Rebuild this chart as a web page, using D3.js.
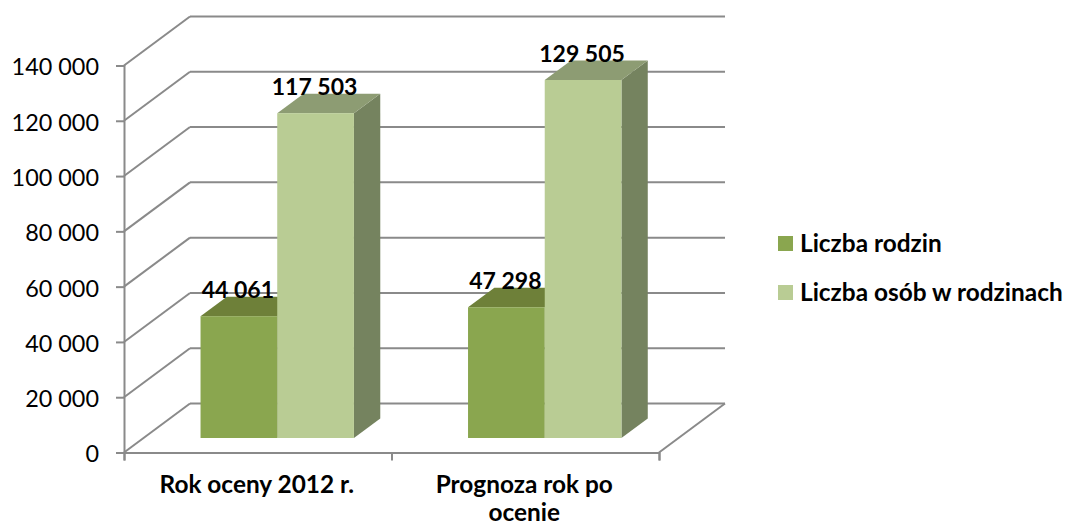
<!DOCTYPE html>
<html>
<head>
<meta charset="utf-8">
<script src="https://d3js.org/d3.v7.min.js"></script>
<style>
html, body { margin: 0; padding: 0; background: #fff; overflow: hidden; }
text { font-family: Lato, Carlito, sans-serif; fill: #000; }
</style>
</head>
<body>
<div id="chart"></div>
<script>
var categories = [["Rok oceny 2012 r."], ["Prognoza rok po", "ocenie"]];
var seriesNames = ["Liczba rodzin", "Liczba osób w rodzinach"];
var rodziny = [44061, 47298];
var osoby = [117503, 129505];
var yTicks = [0, 20000, 40000, 60000, 80000, 100000, 120000, 140000];

var width = 1067;
var height = 527;

var svg = d3.select("#chart")
	.append("svg")
	.attr("width", width)
	.attr("height", height);

var fmt = d3.formatLocale({ decimal: ",", thousands: " ", grouping: [3], currency: ["", ""] }).format(",d");

var y = d3.scaleLinear().domain([0, 140000]).range([452.5, 65.5]);
var x0 = d3.scaleBand().domain([0, 1]).range([124, 659]);
var x1 = d3.scaleBand().domain([0, 1]).range([57, 210.4]);

// how far the back wall is pushed from the front axis plane
var depthX = 66;
var depthY = -49;
// bars sit in this slice of the depth
var barNear = 0.296;
var barFar = 0.695;

function px(x, t) { return x + depthX * t; }
function py(v, t) { return y(v) + depthY * t; }

var colors = [
	{ front: "#8aa64f", top: "#6e8039", side: "#64743a" },
	{ front: "#b9cc94", top: "#8d9c73", side: "#75835f" }
];
var gridColor = "#8a8a8a";

var grid = svg.append("g").attr("fill", "none").attr("stroke", gridColor).attr("stroke-width", 2);

// back wall lines and the diagonals on the left wall
yTicks.forEach(function(t) {
	grid.append("line")
		.attr("x1", px(124, 1)).attr("x2", px(659, 1))
		.attr("y1", py(t, 1)).attr("y2", py(t, 1));
	grid.append("line")
		.attr("x1", 124).attr("x2", px(124, 1))
		.attr("y1", y(t)).attr("y2", py(t, 1));
});

// floor right edge
grid.append("line")
	.attr("x1", 659).attr("x2", px(659, 1))
	.attr("y1", y(0)).attr("y2", py(0, 1));

var yAxis = svg.append("g")
	.attr("transform", "translate(124,0)")
	.call(d3.axisLeft(y).tickValues(yTicks).tickFormat(fmt).tickSize(8).tickPadding(17));
yAxis.selectAll("line").attr("stroke", gridColor).attr("stroke-width", 2);
yAxis.select(".domain").attr("stroke", gridColor).attr("stroke-width", 2);
yAxis.selectAll("text")
	.attr("dy", "0.4em")
	.attr("fill", "#000")
	.style("font-size", "23.4px")
	.style("font-family", "Lato");

var xAxis = svg.append("g")
	.attr("transform", "translate(0,452.5)")
	.call(d3.axisBottom(d3.scaleLinear().domain([0, 2]).range([124, 659])).tickValues([0, 1, 2]).tickFormat("").tickSize(8));
xAxis.selectAll("line").attr("stroke", gridColor).attr("stroke-width", 2);
xAxis.select(".domain").attr("stroke", gridColor).attr("stroke-width", 2);

function bar(g, x, w, v, c) {
	var xa = x, xb = x + w;
	g.append("polygon").attr("fill", c.side).attr("points", [
		[px(xb, barNear), py(0, barNear)], [px(xb, barFar), py(0, barFar)],
		[px(xb, barFar), py(v, barFar)], [px(xb, barNear), py(v, barNear)]
	].join(" "));
	g.append("polygon").attr("fill", c.top).attr("points", [
		[px(xa, barNear), py(v, barNear)], [px(xb, barNear), py(v, barNear)],
		[px(xb, barFar), py(v, barFar)], [px(xa, barFar), py(v, barFar)]
	].join(" "));
	g.append("rect").attr("fill", c.front)
		.attr("x", px(xa, barNear)).attr("width", w)
		.attr("y", py(v, barNear)).attr("height", py(0, barNear) - py(v, barNear));
}

var bars = svg.append("g");
[rodziny, osoby].forEach(function(vals, s) {
	vals.forEach(function(v, i) {
		bar(bars, x0(i) + x1(s), x1.bandwidth(), v, colors[s]);
	});
});

// value labels
var labels = svg.append("g")
	.attr("text-anchor", "middle")
	.style("font-size", "23px")
	.style("font-weight", "bold");
[rodziny, osoby].forEach(function(vals, s) {
	vals.forEach(function(v, i) {
		labels.append("text")
			.attr("x", px(x0(i) + x1(s) + x1.bandwidth() / 2, barNear) - 1)
			.attr("y", py(v, barNear) - 18)
			.text(fmt(v));
	});
});

// category labels, second line pulled up a little so it stays inside the picture
categories.forEach(function(lines, i) {
	lines.forEach(function(line, j) {
		svg.append("text")
			.attr("x", x0(i) + x0.bandwidth() / 2 - 1)
			.attr("y", 493 + j * 28)
			.attr("text-anchor", "middle")
			.style("font-size", "24.4px")
			.style("font-weight", "bold")
			.text(line);
	});
});

// legend
var legendY = d3.scalePoint().domain([0, 1]).range([236, 285]);
seriesNames.forEach(function(name, i) {
	svg.append("rect")
		.attr("x", 778).attr("y", legendY(i))
		.attr("width", 15).attr("height", 15)
		.attr("fill", colors[i].front);
	svg.append("text")
		.attr("x", 800).attr("y", legendY(i) + 15.5)
		.style("font-size", "24.4px")
		.style("font-weight", "bold")
		.text(name);
});
</script>
</body>
</html>
